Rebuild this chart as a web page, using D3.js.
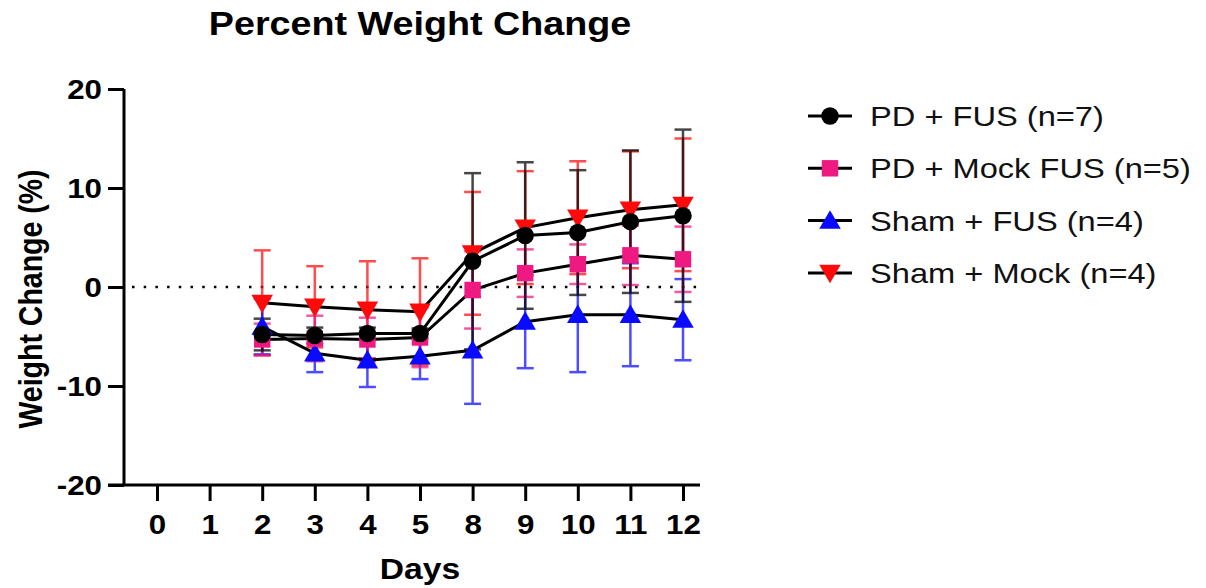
<!DOCTYPE html>
<html>
<head>
<meta charset="utf-8">
<script src="https://cdn.jsdelivr.net/npm/d3@7"></script>
<style>
  body { margin: 0; background: #fff; }
  svg { font-family: "Liberation Sans", Arial, sans-serif; }
</style>
</head>
<body>
<svg id="chart" width="1206" height="588"></svg>
<script>
// ========== Data ==========
const days = ['0', '1', '2', '3', '4', '5', '8', '9', '10', '11', '12'];
const measuredDays = ['2', '3', '4', '5', '8', '9', '10', '11', '12'];
const yTicks = [-20, -10, 0, 10, 20];

const pdFusMean = [-4.8, -4.9, -4.7, -4.7, 2.6, 5.2, 5.5, 6.6, 7.2];
const pdFusErr = [1.6, 0.8, 0.6, 0.5, 8.9, 7.4, 6.3, 7.2, 8.7];

const pdMockMean = [-5.3, -5.2, -5.3, -5.1, -0.3, 1.4, 2.3, 3.2, 2.8];
const pdMockErr = [1.6, 2.3, 2.2, 3.0, 3.9, 2.4, 2.0, 3.0, 3.3];

const shamFusMean = [-4.0, -6.7, -7.4, -7.0, -6.4, -3.5, -2.8, -2.8, -3.3];
const shamFusErr = [2.8, 1.9, 2.7, 2.3, 5.4, 4.7, 5.8, 5.2, 4.1];

const shamMockMean = [-1.6, -2.0, -2.3, -2.5, 3.4, 6.0, 7.0, 7.8, 8.3];
const shamMockErr = [5.3, 4.1, 4.9, 5.4, 6.2, 5.7, 5.7, 5.9, 6.7];

const seriesNames = ['PD + FUS (n=7)', 'PD + Mock FUS (n=5)', 'Sham + FUS (n=4)', 'Sham + Mock (n=4)'];
const seriesColors = ['#000000', '#ee1a82', '#0a0aff', '#ff0a0a'];
const seriesSymbols = [d3.symbolCircle, d3.symbolSquare, d3.symbolTriangle, d3.symbolTriangle];

const series = [
  {mean: pdFusMean, err: pdFusErr},
  {mean: pdMockMean, err: pdMockErr},
  {mean: shamFusMean, err: shamFusErr},
  {mean: shamMockMean, err: shamMockErr}
].map((s, i) => ({
  ...s,
  name: seriesNames[i],
  color: seriesColors[i],
  symbol: seriesSymbols[i],
  flip: i === 3,
  points: measuredDays.map((d, j) => ({day: d, mean: s.mean[j], err: s.err[j]}))
}));

// ========== Config ==========
const config = {
  axisX: 124,
  axisY: 485,
  top: 89,
  xFirst: 157,
  xLast: 683,
  xEnd: 700,
  tick: 16,
  capW: 17,
  stretch: 1.16   // text in the reference is a little wide
};

const svg = d3.select('#chart');

// stretch a text horizontally around its anchor point
function widen(sel, k = config.stretch) {
  sel.each(function() {
    const t = d3.select(this);
    const x0 = +(t.attr('x') || 0);
    t.attr('x', x0 / k)
      .attr('transform', `scale(${k},1)`);
  });
}

// ========== Scales ==========
const x = d3.scalePoint()
  .domain(days)
  .range([config.xFirst, config.xLast]);

const y = d3.scaleLinear()
  .domain([-20, 20])
  .range([config.axisY, config.top]);

// ========== Title ==========
svg.append('g')
  .attr('transform', 'translate(420,35)')
  .append('text')
  .attr('text-anchor', 'middle')
  .attr('font-size', 32.5)
  .attr('font-weight', 'bold')
  .text('Percent Weight Change')
  .call(widen);

// ========== Axes ==========
const yAxis = svg.append('g')
  .attr('transform', `translate(${config.axisX},0)`)
  .call(d3.axisLeft(y).tickValues(yTicks).tickSize(config.tick).tickPadding(6).tickFormat(d => String(d)));

const xAxis = svg.append('g')
  .attr('transform', `translate(0,${config.axisY})`)
  .call(d3.axisBottom(x).tickSize(config.tick).tickPadding(14).tickSizeOuter(0));

xAxis.select('.domain').remove();
xAxis.append('line')
  .attr('x1', config.axisX - config.tick)
  .attr('x2', config.xEnd)
  .attr('stroke', '#000')
  .attr('stroke-width', 3);

yAxis.select('.domain')
  .attr('d', `M0,${config.top}V${config.axisY}`);

[xAxis, yAxis].forEach(g => {
  g.selectAll('line').attr('stroke', '#000').attr('stroke-width', 3);
  g.select('.domain').attr('stroke', '#000').attr('stroke-width', 3);
  g.selectAll('text')
    .attr('fill', '#000')
    .attr('font-size', 27)
    .attr('font-weight', 'bold')
    .attr('font-family', '"Liberation Sans", Arial, sans-serif')
    .call(widen);
});
yAxis.selectAll('text').attr('dy', '0.36em');

svg.append('g')
  .attr('transform', 'translate(420,579)')
  .append('text')
  .attr('text-anchor', 'middle')
  .attr('font-size', 29)
  .attr('font-weight', 'bold')
  .text('Days')
  .call(widen);

svg.append('text')
  .attr('transform', `translate(42,${y(0) + 12}) scale(${config.stretch},1) rotate(-90)`)
  .attr('text-anchor', 'middle')
  .attr('font-size', 28.5)
  .attr('font-weight', 'bold')
  .text('Weight Change (%)');

// ========== Zero line ==========
svg.append('line')
  .attr('x1', config.axisX + 8)
  .attr('x2', config.xEnd)
  .attr('y1', y(0))
  .attr('y2', y(0))
  .attr('stroke', '#000')
  .attr('stroke-width', 2.5)
  .attr('stroke-dasharray', '2.5,9.2');

// ========== Error bars ==========
const plot = svg.append('g');
const drawOrder = [3, 2, 1, 0];

drawOrder.forEach(i => {
  const s = series[i];
  const g = plot.append('g').attr('stroke', s.color).attr('stroke-width', 2.5).attr('opacity', 0.72);
  s.points.forEach(p => {
    const cx = x(p.day);
    const y1 = y(p.mean + p.err), y2 = y(p.mean - p.err);
    g.append('line').attr('x1', cx).attr('x2', cx).attr('y1', y1).attr('y2', y2);
    g.append('line').attr('x1', cx - config.capW / 2).attr('x2', cx + config.capW / 2).attr('y1', y1).attr('y2', y1);
    g.append('line').attr('x1', cx - config.capW / 2).attr('x2', cx + config.capW / 2).attr('y1', y2).attr('y2', y2);
  });
});

// ========== Lines ==========
const line = d3.line()
  .x(d => x(d.day))
  .y(d => y(d.mean));

drawOrder.forEach(i => {
  plot.append('path')
    .datum(series[i].points)
    .attr('d', line)
    .attr('fill', 'none')
    .attr('stroke', '#000')
    .attr('stroke-width', 3);
});

// ========== Markers ==========
function symbolPath(s) {
  const size = s.symbol === d3.symbolCircle ? 240 : s.symbol === d3.symbolSquare ? 270 : 200;
  return d3.symbol().type(s.symbol).size(size)();
}

function symbolTransform(s, cx, cy) {
  const isTri = s.symbol === d3.symbolTriangle;
  const dy = isTri ? (s.flip ? -2 : 2) : 0;
  return `translate(${cx},${cy + dy})${s.flip ? ' rotate(180)' : ''}`;
}

drawOrder.forEach(i => {
  const s = series[i];
  plot.append('g')
    .selectAll('path')
    .data(s.points)
    .join('path')
    .attr('d', symbolPath(s))
    .attr('transform', d => symbolTransform(s, x(d.day), y(d.mean)))
    .attr('fill', s.color);
});

// ========== Legend ==========
const legend = svg.append('g')
  .attr('transform', 'translate(808,116)');

const legendRows = legend.selectAll('g')
  .data(series)
  .join('g')
  .attr('transform', (d, i) => `translate(0,${i * 52.3})`);

legendRows.append('line')
  .attr('x1', 0)
  .attr('x2', 44)
  .attr('stroke', '#000')
  .attr('stroke-width', 3);

legendRows.append('path')
  .attr('d', d => symbolPath(d))
  .attr('transform', d => symbolTransform(d, 22, 0))
  .attr('fill', d => d.color);

legendRows.append('g')
  .attr('transform', 'translate(62,10)')
  .append('text')
  .attr('font-size', 28.5)
  .attr('fill', '#111')
  .text(d => d.name)
  .call(widen, 1.145);
</script>
</body>
</html>
